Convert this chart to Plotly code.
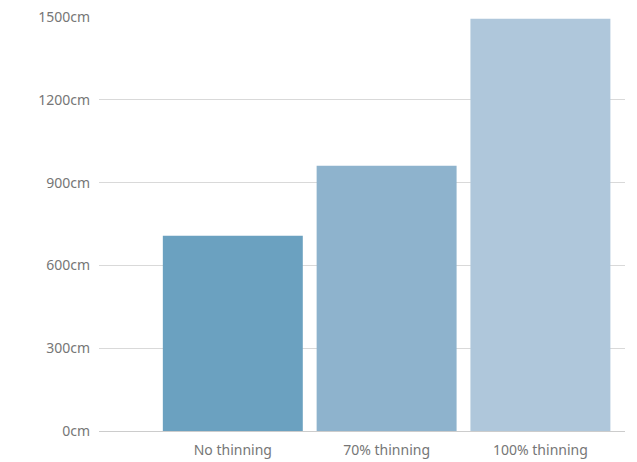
import plotly.graph_objects as go

categories = ["No thinning", "70% thinning", "100% thinning"]
values = [707, 961, 1494]
colors = ["#6ba1c0", "#8eb3cd", "#afc7db"]
tick_vals = [0, 300, 600, 900, 1200, 1500]
tick_text = ["0cm", "300cm", "600cm", "900cm", "1200cm", "1500cm"]

fig = go.Figure(go.Bar(
    x=categories, y=values, marker=dict(color=colors, line=dict(width=0)),
    width=0.91,
))
fig.update_layout(
    width=637, height=462,
    margin=dict(l=99, r=12, t=17, b=31),
    paper_bgcolor="white", plot_bgcolor="white",
    font=dict(family="Noto Sans, sans-serif", size=14, color="#767676"),
    showlegend=False,
)
fig.update_xaxes(range=[-0.87, 2.55], showgrid=False, showline=False, zeroline=False,
                 ticks="", ticklabelstandoff=9, automargin=False,
                 tickfont=dict(size=14, color="#767676"))
fig.update_yaxes(range=[0, 1500], tickvals=tick_vals, ticktext=tick_text,
                 showgrid=True, gridcolor="#d9d9d9", gridwidth=1,
                 zeroline=True, zerolinecolor="#cccccc", zerolinewidth=1,
                 showline=False, ticks="", ticklabelstandoff=8, automargin=False,
                 tickfont=dict(size=14, color="#767676"))
fig.write_html("out.html")
